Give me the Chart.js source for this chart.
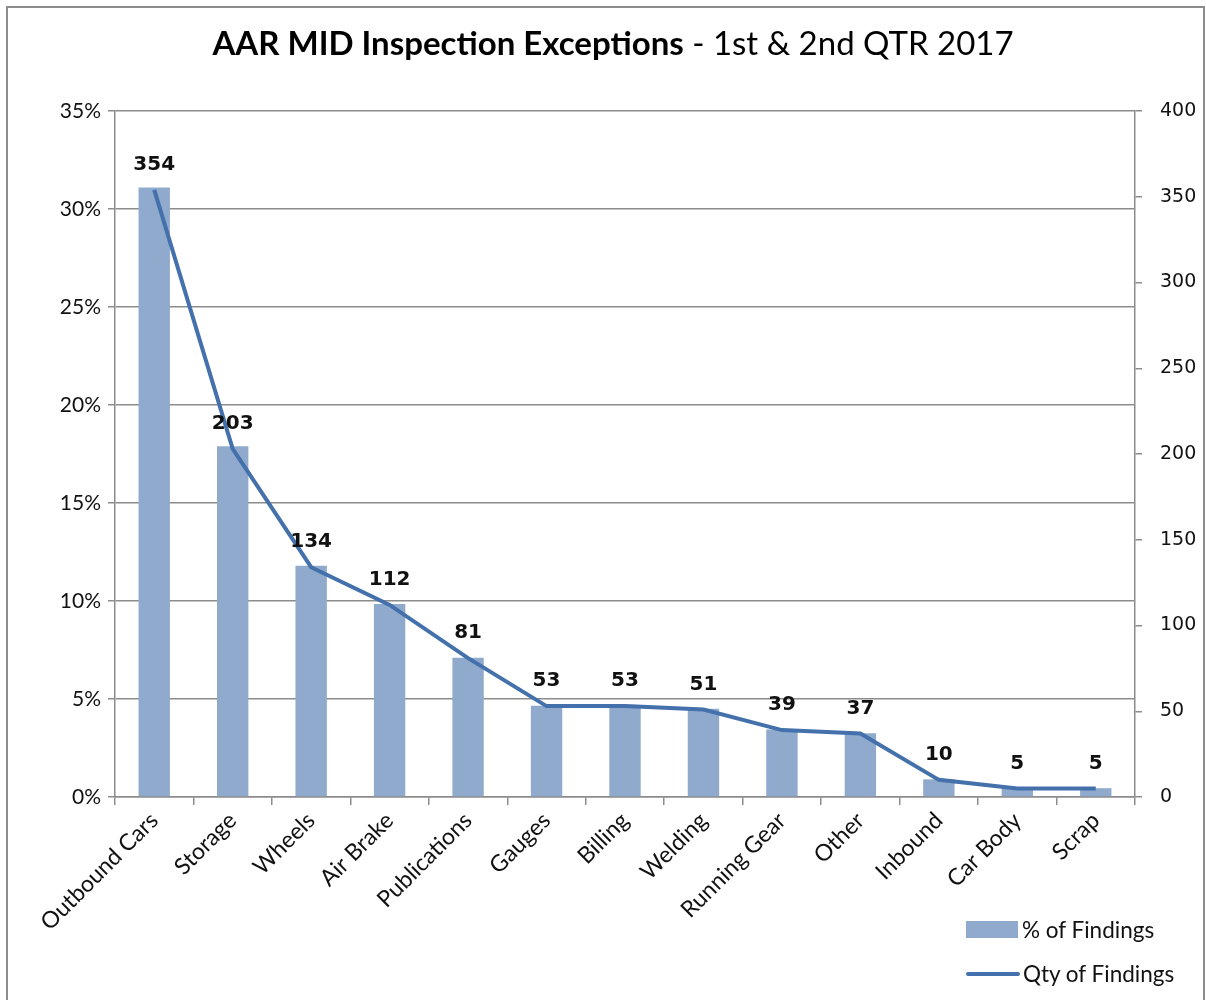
<!DOCTYPE html>
<html lang="en">
<head>
  <meta charset="UTF-8" />
  <title>AAR MID Inspection Exceptions</title>
  <script src="https://cdn.jsdelivr.net/npm/chart.js"></script>
  <style>
    body { margin: 0; background: #fff; font-family: Lato, 'Open Sans', sans-serif; }
    #wrap { position: relative; width: 1206px; height: 1000px; overflow: hidden; }
    #frame {
      position: absolute; left: 6px; top: 6px; width: 1199px; height: 1020px;
      border: 2px solid #8c8c8c; box-sizing: border-box;
    }
    #title {
      position: absolute; top: 22px; left: 0; width: 1226px;
      text-align: center; font-size: 33px; color: #000;
    }
    #title b { font-weight: 700; }
    #chart { position: absolute; left: 0; top: 0; }
    .leg { position: absolute; left: 966px; font-size: 22.5px; color: #111; display: flex; align-items: center; }
    .sw-bar { width: 52px; height: 17px; background: #8FAACC; margin-right: 4px; }
    .sw-line { width: 54px; height: 4px; background: #4470AB; border-radius: 2px; margin-right: 3px; }
  </style>
</head>
<body>
  <div id="wrap">
    <div id="frame"></div>
    <canvas id="chart" width="1206" height="1000"></canvas>
    <div id="title"><b>AAR MID Inspection Exceptions</b> - 1st &amp; 2nd QTR 2017</div>
    <div class="leg" style="top:916px"><div class="sw-bar"></div>% of Findings</div>
    <div class="leg" style="top:960px"><div class="sw-line"></div>Qty of Findings</div>
  </div>

  <script>
    // data
    const kategori = ['Outbound Cars', 'Storage', 'Wheels', 'Air Brake', 'Publications', 'Gauges',
      'Billing', 'Welding', 'Running Gear', 'Other', 'Inbound', 'Car Body', 'Scrap'];
    const persenTemuan = [31.1, 17.9, 11.8, 9.85, 7.1, 4.65, 4.65, 4.5, 3.45, 3.25, 0.9, 0.45, 0.45];
    const jumlahTemuan = [354, 203, 134, 112, 81, 53, 53, 51, 39, 37, 10, 5, 5];
    const tickKiri = [0, 5, 10, 15, 20, 25, 30, 35];
    const tickKanan = [0, 50, 100, 150, 200, 250, 300, 350, 400];

    const abu = '#8c8c8c';

    // label angka di atas garis
    const labelGaris = {
      id: 'labelGaris',
      afterDatasetsDraw(chart) {
        const ctx = chart.ctx;
        const meta = chart.getDatasetMeta(1);
        ctx.save();
        ctx.font = 'bold 20px "DejaVu Sans", sans-serif';
        ctx.fillStyle = '#111';
        ctx.textAlign = 'center';
        ctx.textBaseline = 'middle';
        meta.data.forEach((pt, i) => {
          ctx.fillText(String(jumlahTemuan[i]), pt.x, pt.y - 25);
        });
        ctx.restore();
      }
    };

    const ctx = document.getElementById('chart').getContext('2d');
    new Chart(ctx, {
      data: {
        labels: kategori,
        datasets: [
          {
            type: 'bar', label: '% of Findings', data: persenTemuan, yAxisID: 'y',
            backgroundColor: '#8FAACC', barPercentage: 0.4, categoryPercentage: 1.0, order: 2
          },
          {
            type: 'line', label: 'Qty of Findings', data: jumlahTemuan, yAxisID: 'y1',
            borderColor: '#4470AB', borderWidth: 4, pointRadius: 0, tension: 0, order: 1
          }
        ]
      },
      options: {
        responsive: false,
        animation: false,
        devicePixelRatio: 1,
        layout: { padding: { top: 111, left: 0, right: 0, bottom: 0 } },
        plugins: { legend: { display: false }, tooltip: { enabled: false } },
        scales: {
          x: {
            offset: true,
            grid: { display: true, drawOnChartArea: false, offset: true, color: abu, tickLength: 8, lineWidth: 1.5 },
            border: { color: abu, width: 1.5 },
            ticks: {
              color: '#111', maxRotation: 45, minRotation: 45, autoSkip: false, padding: 2,
              font: { family: 'Lato', size: 23 }
            },
            afterFit(scale) { scale.height = 203; }
          },
          y: {
            position: 'left', min: 0, max: 35,
            afterBuildTicks(scale) { scale.ticks = tickKiri.map(v => ({ value: v })); },
            grid: { color: abu, lineWidth: 1.5, tickLength: 7 },
            border: { color: abu, width: 1.5 },
            ticks: {
              color: '#111', padding: 7, font: { family: 'Lato', size: 21 },
              callback: v => v + '%'
            },
            afterFit(scale) { scale.width = 115; }
          },
          y1: {
            position: 'right', min: 0, max: 400,
            afterBuildTicks(scale) { scale.ticks = tickKanan.map(v => ({ value: v })); },
            grid: { drawOnChartArea: false, color: abu, lineWidth: 1.5, tickLength: 7 },
            border: { color: abu, width: 1.5 },
            ticks: { color: '#111', padding: 18, font: { family: 'DejaVu Sans', size: 19 } },
            afterFit(scale) { scale.width = 71; }
          }
        }
      },
      plugins: [labelGaris]
    });
  </script>
</body>
</html>
